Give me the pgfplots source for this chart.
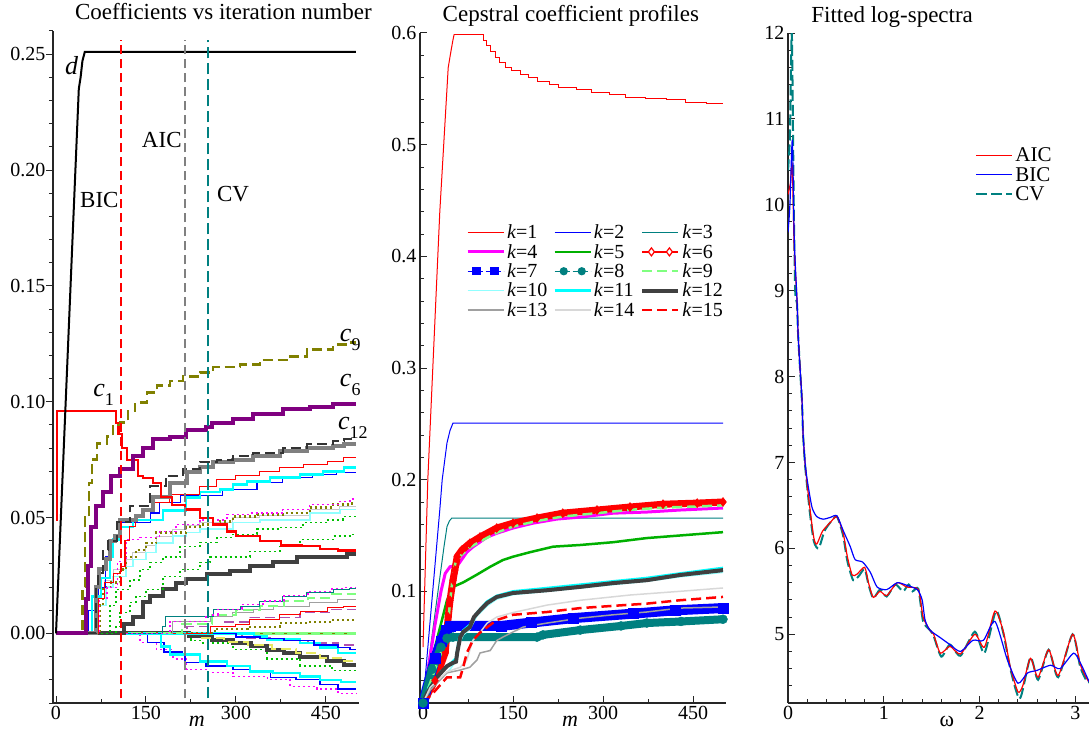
\documentclass[border=0pt]{standalone}
\usepackage{fontspec}
\setmainfont{Liberation Serif}
\usepackage{pgfplots}
\pgfplotsset{compat=1.18}
\definecolor{cRed}{HTML}{FF0000}
\definecolor{cBlue}{HTML}{0000FF}
\definecolor{cTeal}{HTML}{008080}
\definecolor{cOlive}{HTML}{808000}
\definecolor{cPurple}{HTML}{800080}
\definecolor{cGray}{HTML}{808080}
\definecolor{cMid}{HTML}{A0A0A0}
\definecolor{cDark}{HTML}{404040}
\definecolor{cLight}{HTML}{C8C8C8}
\definecolor{cVLight}{HTML}{D8D8D8}
\definecolor{cMag}{HTML}{FF00FF}
\definecolor{cGreen}{HTML}{00B000}
\definecolor{cDGreen}{HTML}{00C000}
\definecolor{cLGreen}{HTML}{80FF80}
\definecolor{cCyan}{HTML}{00FFFF}
\definecolor{cLCyan}{HTML}{90FFFF}
\definecolor{cYellow}{HTML}{E8E860}
\definecolor{cOrchid}{HTML}{B050B0}
\newcommand{\fs}[1]{\fontsize{#1}{#1}\selectfont}
\newcommand{\clab}[1]{{\fs{26}\itshape c}\raisebox{-9pt}{\fs{18}#1}}
\pgfplotsset{
  base/.style={
    scale only axis,
    axis x line*=bottom, axis y line*=left,
    axis line style={-, line width=1.2pt, black!85},
    every tick/.style={black!85, line width=1pt},
    major tick length=7pt, minor tick length=4pt,
    tick label style={font=\fs{20}},
    /pgf/number format/assume math mode=true,
    title style={font=\fs{23}, anchor=base, yshift=5pt},
    enlargelimits=false,
    legend cell align=left,
    legend image code/.code={\draw[mark repeat=2,mark phase=2,#1] plot coordinates {(0pt,0pt) (9pt,0pt) (18pt,0pt) (27pt,0pt) (36pt,0pt)};},
  },
  st/.style={const plot, line width=#1},
  st/.default=1pt,
  dotp/.style={dash pattern=on 2pt off 3pt},
  dashp/.style={dash pattern=on 10pt off 5pt},
}
\begin{document}
\begin{tikzpicture}
\useasboundingbox (0,0) rectangle (1089pt,731pt);
%================ PANEL 1
\begin{axis}[base, at={(53pt,28pt)}, anchor=south west, width=306pt, height=672pt,
  xmin=-5, xmax=505, ymin=-0.03, ymax=0.26, clip=false,
  xtick={0,150,300,450}, minor xtick={75,225,375},
  ytick={0,0.05,0.1,0.15,0.2,0.25},
  minor ytick={-0.03,-0.02,-0.01,0.01,0.02,0.03,0.04,0.06,0.07,0.08,0.09,0.11,0.12,0.13,0.14,0.16,0.17,0.18,0.19,0.21,0.22,0.23,0.24,0.26},
  xtick align=inside, ytick align=outside,
  yticklabel style={xshift=3pt, /pgf/number format/.cd, fixed, fixed zerofill, precision=2},
  title={Coefficients vs iteration number}, title style={at={(0.557,1)}},
  xlabel={\textit{m}}, xlabel style={font=\fs{22}, at={(0.47,0)}, anchor=base, yshift=-23pt},
]
\addplot[cLGreen, line width=3pt] coordinates {(0,0) (500,0)};
\addplot[cOlive, line width=1.5pt, dash pattern=on 3pt off 9pt] coordinates {(0,0) (500,0)};
% negative group
\addplot[st=1.2pt, cMag, dotp] coordinates {(0,0) (138,0) (140,-0.004) (168,-0.007) (195,-0.011) (218,-0.0155) (252,-0.017) (295,-0.0186) (352,-0.020) (390,-0.023) (435,-0.024) (470,-0.026) (500,-0.026)};
\addplot[st=1.2pt, cBlue] coordinates {(0,0) (150,0) (152,-0.004) (180,-0.008) (210,-0.0095) (215,-0.0125) (250,-0.014) (295,-0.0155) (323,-0.017) (357,-0.019) (400,-0.020) (440,-0.022) (470,-0.024) (500,-0.024)};
\addplot[st=2.5pt, cCyan] coordinates {(0,0) (170,0) (175,-0.0056) (190,-0.009) (240,-0.012) (285,-0.014) (323,-0.0164) (362,-0.017) (407,-0.0186) (440,-0.020) (475,-0.021) (500,-0.021)};
\addplot[st=1.5pt, cDGreen, dotp] coordinates {(0,0) (220,0) (225,-0.003) (240,-0.004) (295,-0.007) (352,-0.011) (407,-0.014) (460,-0.016) (500,-0.016)};
\addplot[st=4pt, cDark] coordinates {(0,0) (215,0) (222,-0.001) (260,-0.003) (295,-0.004) (325,-0.0055) (352,-0.007) (380,-0.0085) (407,-0.010) (452,-0.012) (480,-0.0134) (500,-0.0134)};
\addplot[st=2pt, cYellow, dashp] coordinates {(0,0) (230,0) (240,-0.002) (280,-0.0035) (320,-0.005) (360,-0.0065) (400,-0.0085) (440,-0.0105) (480,-0.012) (500,-0.012)};
\addplot[st=1.5pt, cOrchid, dashp] coordinates {(0,0) (300,0) (310,-0.002) (360,-0.003) (420,-0.004) (470,-0.005) (500,-0.005)};
\addplot[st=2.5pt, cCyan] coordinates {(0,0) (320,0) (330,-0.0013) (352,-0.0026) (407,-0.004) (440,-0.006) (470,-0.0085) (500,-0.0085)};
\addplot[st=1.2pt, cBlue] coordinates {(0,0) (290,0) (300,-0.0015) (340,-0.002) (380,-0.003) (430,-0.005) (470,-0.006) (490,-0.007) (500,-0.007)};
% small positive group
\addplot[st=2pt, cOlive, dotp] coordinates {(0,0) (260,0) (265,0.002) (320,0.003) (373,0.0047) (423,0.005) (460,0.006) (500,0.006)};
\addplot[st=1.5pt, cOrchid, dashp] coordinates {(0,0) (215,0) (218,0.003) (280,0.005) (323,0.007) (407,0.009) (460,0.0104) (500,0.0104)};
\addplot[st=1pt, cRed] coordinates {(0,0) (255,0) (258,0.003) (300,0.004) (323,0.006) (373,0.0082) (407,0.0095) (452,0.011) (480,0.0117) (500,0.0117)};
\addplot[st=1pt, cMid] coordinates {(0,0) (190,0) (195,0.005) (257,0.0073) (295,0.009) (330,0.0105) (362,0.0117) (423,0.0134) (470,0.0147) (500,0.0147)};
\addplot[st=2pt, cLGreen, dashp] coordinates {(0,0) (200,0) (210,0.004) (260,0.008) (300,0.010) (340,0.012) (380,0.014) (420,0.0155) (460,0.017) (500,0.017)};
\addplot[st=1pt, cTeal] coordinates {(0,0) (175,0) (178,0.003) (183,0.0073) (262,0.0104) (307,0.0117) (340,0.0138) (378,0.016) (418,0.0177) (462,0.019) (490,0.0194) (500,0.0194)};
\addplot[st=1.2pt, cMag, dotp] coordinates {(0,0) (185,0) (190,0.005) (250,0.008) (270,0.0105) (310,0.0125) (345,0.014) (380,0.0163) (420,0.018) (460,0.0193) (480,0.0197) (500,0.0197)};
% middle group
\addplot[st=4pt, cDark] coordinates {(0,0) (112,0) (114,0.004) (128,0.0073) (145,0.0134) (157,0.016) (178,0.019) (200,0.022) (217,0.0233) (252,0.0255) (290,0.0268) (323,0.029) (362,0.031) (402,0.0328) (445,0.033) (485,0.0345) (500,0.0345)};
\addplot[st=1.5pt, cDGreen, dotp] coordinates {(0,0) (97,0) (100,0.003) (107,0.009) (123,0.0134) (133,0.016) (150,0.019) (178,0.0246) (207,0.0276) (240,0.0307) (257,0.033) (323,0.0354) (373,0.0376) (407,0.0406) (462,0.042) (490,0.0428) (500,0.0428)};
\addplot[st=1.5pt, cDGreen, dotp] coordinates {(0,0) (85,0) (90,0.012) (100,0.019) (123,0.023) (140,0.0276) (157,0.0307) (178,0.033) (207,0.0376) (240,0.0393) (268,0.0415) (295,0.0428) (335,0.045) (373,0.0458) (412,0.048) (452,0.049) (478,0.0505) (500,0.0505)};
\addplot[st=1pt, cLight] coordinates {(0,0) (64,0) (68,0.015) (80,0.023) (95,0.0276) (117,0.032) (128,0.035) (150,0.038) (167,0.042) (195,0.045) (217,0.0466) (240,0.048) (295,0.050) (340,0.051) (423,0.0535) (473,0.055) (500,0.055)};
\addplot[st=1.5pt, cLCyan] coordinates {(0,0) (66,0) (70,0.012) (83,0.02) (95,0.0246) (117,0.029) (128,0.032) (150,0.035) (167,0.039) (195,0.042) (217,0.0436) (240,0.045) (295,0.048) (340,0.049) (423,0.052) (473,0.0535) (500,0.0535)};
\addplot[st=2.5pt, cOlive, dotp] coordinates {(0,0) (68,0) (73,0.012) (78,0.02) (92,0.022) (107,0.0276) (117,0.033) (133,0.036) (150,0.039) (167,0.0436) (217,0.046) (240,0.047) (273,0.0484) (295,0.0505) (335,0.0514) (378,0.052) (423,0.0544) (462,0.0557) (490,0.056) (500,0.056)};
\addplot[st=1.2pt, cMag, dotp] coordinates {(0,0) (70,0) (73,0.015) (85,0.02) (102,0.031) (118,0.0406) (140,0.0415) (173,0.044) (200,0.047) (240,0.049) (285,0.0514) (323,0.052) (378,0.0535) (423,0.0557) (473,0.057) (490,0.058) (500,0.058)};
% upper group
\addplot[st=1.2pt, cBlue] coordinates {(0,0) (52,0) (54,0.01) (70,0.02) (83,0.033) (90,0.0406) (107,0.048) (157,0.052) (173,0.0566) (207,0.0595) (278,0.0622) (335,0.065) (378,0.0674) (428,0.0687) (468,0.0695) (500,0.0695)};
\addplot[st=2.5pt, cCyan] coordinates {(0,0) (56,0) (60,0.016) (75,0.024) (90,0.033) (95,0.0406) (107,0.046) (128,0.049) (178,0.053) (217,0.0587) (240,0.061) (273,0.0622) (295,0.0643) (318,0.0656) (357,0.0674) (407,0.0687) (445,0.070) (480,0.0717) (500,0.0717)};
\addplot[st=1pt, cRed] coordinates {(0,0) (66,0) (70,0.015) (80,0.022) (95,0.026) (107,0.029) (115,0.040) (123,0.046) (133,0.0505) (145,0.0535) (162,0.0566) (190,0.06) (240,0.0635) (268,0.0665) (300,0.068) (340,0.070) (373,0.0717) (412,0.073) (452,0.0743) (480,0.076) (500,0.076)};
\addplot[st=4pt, cGray] coordinates {(0,0) (62,0) (66,0.02) (72,0.028) (83,0.032) (90,0.04) (98,0.042) (107,0.049) (133,0.0505) (145,0.0535) (162,0.059) (190,0.065) (218,0.0695) (240,0.0717) (262,0.0738) (295,0.075) (328,0.0764) (373,0.0786) (418,0.080) (462,0.0807) (480,0.0816) (500,0.0816)};
\addplot[st=2pt, black!80, dashp] coordinates {(0,0) (64,0) (66,0.02) (70,0.026) (78,0.036) (87,0.04) (102,0.048) (123,0.055) (157,0.0635) (183,0.068) (212,0.0708) (240,0.0738) (268,0.075) (295,0.0764) (328,0.078) (378,0.080) (418,0.0816) (462,0.083) (480,0.0838) (500,0.0838)};
\addplot[st=2.2pt, cRed] coordinates {(0,0.049) (2,0.096) (100,0.091) (104,0.086) (110,0.080) (118,0.075) (137,0.068) (145,0.067) (162,0.065) (175,0.059) (193,0.0553) (215,0.0535) (240,0.050) (262,0.047) (285,0.044) (300,0.042) (340,0.040) (375,0.038) (410,0.0376) (440,0.0365) (470,0.0358) (500,0.0358)};
\addplot[st=2.5pt, cOlive, dashp] coordinates {(0,0) (42,0) (44,0.02) (48,0.05) (55,0.065) (60,0.075) (68,0.082) (85,0.085) (95,0.090) (107,0.091) (120,0.096) (132,0.0997) (152,0.104) (168,0.107) (190,0.109) (212,0.111) (240,0.1127) (262,0.115) (307,0.116) (340,0.118) (385,0.1196) (418,0.1226) (462,0.1248) (485,0.1256) (500,0.1256)};
\addplot[st=4pt, cPurple] coordinates {(0,0) (47,0) (50,0.015) (53,0.029) (58,0.046) (67,0.055) (78,0.061) (92,0.068) (107,0.0708) (128,0.0764) (145,0.080) (162,0.0838) (190,0.085) (217,0.088) (250,0.089) (260,0.091) (295,0.0924) (328,0.0946) (378,0.0967) (423,0.0976) (462,0.0989) (500,0.0989)};
\addplot[black, line width=2pt] coordinates {(0,0) (38,0.235) (41,0.24) (44,0.247) (48,0.251) (500,0.251)};
% vertical criterion lines
\addplot[cRed, line width=2pt, dash pattern=on 9pt off 5pt] coordinates {(108,-0.028) (108,0.256)};
\addplot[cGray, line width=2pt, dash pattern=on 9pt off 5pt] coordinates {(215,-0.028) (215,0.256)};
\addplot[cTeal, line width=2pt, dash pattern=on 11pt off 5pt] coordinates {(254,-0.028) (254,0.256)};
% labels
\node[anchor=base west, font=\fs{26}\itshape, inner sep=0pt] at (axis cs:15,0.2414) {d};
\node[anchor=base west, inner sep=0pt] at (axis cs:62,0.1023) {\clab{1}};
\node[anchor=base west, inner sep=0pt] at (axis cs:473,0.126) {\clab{9}};
\node[anchor=base west, inner sep=0pt] at (axis cs:473,0.1066) {\clab{6}};
\node[anchor=base west, inner sep=0pt] at (axis cs:470,0.088) {\clab{12}};
\node[anchor=base west, font=\fs{23}, inner sep=0pt] at (axis cs:143,0.2098) {AIC};
\node[anchor=base west, font=\fs{23}, inner sep=0pt] at (axis cs:40,0.184) {BIC};
\node[anchor=base west, font=\fs{23}, inner sep=0pt] at (axis cs:268,0.1865) {CV};
\end{axis}
%================ PANEL 2
\begin{axis}[base, at={(420pt,28pt)}, anchor=south west, width=306pt, height=670pt,
  xmin=-5, xmax=505, ymin=0, ymax=0.6,
  xtick={0,150,300,450}, minor xtick={75,225,375},
  ytick={0.1,0.2,0.3,0.4,0.5,0.6},
  minor ytick={0.02,0.04,0.06,0.08,0.12,0.14,0.16,0.18,0.22,0.24,0.26,0.28,0.32,0.34,0.36,0.38,0.42,0.44,0.46,0.48,0.52,0.54,0.56,0.58},
  tick align=inside,
  yticklabel style={/pgf/number format/.cd, fixed, fixed zerofill, precision=1},
  title={Cepstral coefficient profiles}, title style={at={(0.493,1)}},
  xlabel={\textit{m}}, xlabel style={font=\fs{22}, at={(0.49,0)}, anchor=base, yshift=-23pt},
  legend columns=3,
  legend style={at={(0.14,0.72)}, anchor=north west, draw=none, fill=none, font=\fs{20},
    /tikz/every even column/.append style={column sep=4pt},
    /tikz/every odd column/.append style={column sep=0pt}},
]
\addplot[cRed, line width=1pt, forget plot] coordinates {(0,0.05) (8,0.2) (28,0.44) (42,0.569) (47,0.585) (50,0.594) (52,0.599)};
\addplot[const plot, cRed, line width=1pt, forget plot] coordinates {(52,0.599) (100,0.5936) (106,0.589) (112,0.583) (120,0.578) (128,0.574) (138,0.569) (148,0.5667) (163,0.563) (176,0.5604) (190,0.557) (210,0.554) (226,0.5515) (255,0.5497) (281,0.547) (310,0.545) (338,0.5425) (371,0.5416) (405,0.540) (438,0.538) (473,0.537) (500,0.537)};
\addplot[cBlue, line width=1pt, forget plot] coordinates {(0,0) (28,0.173) (32,0.2) (40,0.233) (45,0.244) (50,0.2507) (500,0.2507)};
\addplot[cTeal, line width=1pt, forget plot] coordinates {(0,0) (35,0.14) (40,0.158) (44,0.163) (48,0.1656) (500,0.1656)};
\addplot[cMag, line width=3pt, forget plot] coordinates {(0,0) (20,0.07) (30,0.1) (37,0.116) (45,0.122) (58,0.1235) (73,0.135) (83,0.1397) (107,0.1486) (123,0.152) (150,0.1567) (183,0.161) (223,0.1647) (262,0.1665) (317,0.170) (373,0.171) (428,0.1728) (500,0.1746)};
\addplot[cGreen, line width=2.5pt, forget plot] coordinates {(0,0) (20,0.05) (40,0.092) (50,0.104) (67,0.108) (90,0.115) (112,0.122) (133,0.128) (150,0.131) (178,0.135) (217,0.14) (262,0.1415) (317,0.144) (373,0.1477) (428,0.150) (500,0.153)};
\addplot[cRed, line width=7pt, mark=diamond*, mark size=4.5pt, mark options={fill=cRed, line width=0.5pt}, forget plot] coordinates {(0,0) (20,0.02) (37,0.045) (42,0.077) (45,0.092) (50,0.11) (53,0.119) (57,0.131) (65,0.137) (78,0.143) (95,0.1486) (123,0.1567) (150,0.161) (190,0.1656) (233,0.170) (290,0.1728) (345,0.1755) (400,0.178) (457,0.179) (500,0.180)};
\addplot[cBlue, line width=10pt, mark=square*, mark size=5pt, mark options={line width=0.4pt}, forget plot] coordinates {(0,0) (20,0.04) (30,0.055) (38,0.065) (45,0.069) (130,0.069) (180,0.072) (250,0.076) (350,0.08) (420,0.083) (500,0.085)};
\addplot[cTeal, line width=8pt, mark=*, mark size=4.5pt, mark options={line width=0.4pt}, forget plot] coordinates {(0,0) (15,0.03) (30,0.05) (40,0.058) (50,0.059) (190,0.059) (200,0.061) (262,0.0653) (330,0.069) (373,0.0716) (430,0.073) (500,0.075)};
\addplot[cLGreen, line width=2.5pt, dashp, forget plot] coordinates {(0,0) (40,0.06) (45,0.09) (50,0.115) (55,0.128) (65,0.133) (80,0.14) (100,0.146) (125,0.153) (150,0.158) (190,0.163) (233,0.167) (290,0.170) (345,0.173) (400,0.175) (457,0.176) (500,0.177)};
\addplot[cLCyan, line width=1.5pt, forget plot] coordinates {(0,0) (10,0.012) (30,0.022) (45,0.03) (55,0.038) (62,0.055) (67,0.061) (78,0.066) (90,0.078) (107,0.087) (123,0.093) (150,0.097) (207,0.1) (262,0.103) (317,0.106) (373,0.109) (428,0.113) (500,0.117)};
\addplot[cCyan, line width=2.5pt, forget plot] coordinates {(0,0) (10,0.014) (30,0.028) (45,0.035) (55,0.04) (60,0.058) (67,0.065) (78,0.07) (90,0.081) (107,0.091) (123,0.096) (150,0.1) (207,0.103) (262,0.106) (317,0.109) (373,0.112) (428,0.116) (500,0.121)};
\addplot[cDark, line width=4pt, forget plot] coordinates {(0,0) (7,0.009) (23,0.023) (40,0.033) (50,0.036) (55,0.037) (57,0.045) (62,0.059) (67,0.0636) (78,0.068) (85,0.077) (90,0.08) (95,0.083) (107,0.0895) (123,0.095) (150,0.0985) (207,0.101) (262,0.104) (317,0.1074) (373,0.110) (428,0.1146) (500,0.119)};
\addplot[cMid, line width=1.5pt, forget plot] coordinates {(0,0) (12,0.0116) (40,0.027) (62,0.0295) (78,0.032) (90,0.0385) (95,0.0448) (112,0.047) (123,0.056) (133,0.059) (150,0.0636) (167,0.068) (207,0.0716) (262,0.076) (317,0.079) (373,0.0815) (428,0.085) (500,0.086)};
\addplot[cVLight, line width=1.5pt, forget plot] coordinates {(0,0) (12,0.014) (40,0.028) (62,0.032) (73,0.0385) (83,0.056) (95,0.063) (107,0.0716) (123,0.077) (150,0.081) (207,0.0877) (262,0.092) (345,0.0967) (428,0.100) (500,0.103)};
\addplot[cRed, line width=2.5pt, dashp, forget plot] coordinates {(0,0) (17,0.009) (40,0.023) (62,0.023) (67,0.032) (73,0.0448) (83,0.056) (95,0.063) (107,0.068) (123,0.0743) (150,0.079) (207,0.0815) (262,0.085) (317,0.087) (373,0.089) (428,0.092) (500,0.095)};
\addlegendimage{cRed, line width=1.3pt}\addlegendentry{\textit{k}=1}
\addlegendimage{cBlue, line width=1.3pt}\addlegendentry{\textit{k}=2}
\addlegendimage{cTeal, line width=1.3pt}\addlegendentry{\textit{k}=3}
\addlegendimage{cMag, line width=3pt}\addlegendentry{\textit{k}=4}
\addlegendimage{cGreen, line width=2.5pt}\addlegendentry{\textit{k}=5}
\addlegendimage{cRed, line width=2.5pt, mark=diamond*, mark size=4pt, mark options={fill=white, line width=1.2pt}}\addlegendentry{\textit{k}=6}
\addlegendimage{cBlue, line width=1.2pt, dash pattern=on 6pt off 3pt, mark=square*, mark size=3.5pt, mark options={solid}}\addlegendentry{\textit{k}=7}
\addlegendimage{cTeal, line width=1.2pt, dash pattern=on 6pt off 3pt, mark=*, mark size=3.5pt, mark options={solid}}\addlegendentry{\textit{k}=8}
\addlegendimage{cLGreen, line width=2.5pt, dashp}\addlegendentry{\textit{k}=9}
\addlegendimage{cLCyan, line width=1.5pt}\addlegendentry{\textit{k}=10}
\addlegendimage{cCyan, line width=2.5pt}\addlegendentry{\textit{k}=11}
\addlegendimage{cDark, line width=4pt}\addlegendentry{\textit{k}=12}
\addlegendimage{cMid, line width=1.5pt}\addlegendentry{\textit{k}=13}
\addlegendimage{cVLight, line width=1.5pt}\addlegendentry{\textit{k}=14}
\addlegendimage{cRed, line width=2.5pt, dashp}\addlegendentry{\textit{k}=15}
\end{axis}
%================ PANEL 3
\begin{axis}[base, at={(788pt,28pt)}, anchor=south west, width=301pt, height=670pt,
  xmin=0, xmax=3.14159, ymin=4.2, ymax=12,
  xtick={0,1,2,3}, minor xtick={0.2,0.4,0.6,0.8,1.2,1.4,1.6,1.8,2.2,2.4,2.6,2.8,3.2},
  ytick={5,6,7,8,9,10,11,12},
  minor ytick={4.4,4.6,4.8,5.2,5.4,5.6,5.8,6.2,6.4,6.6,6.8,7.2,7.4,7.6,7.8,8.2,8.4,8.6,8.8,9.2,9.4,9.6,9.8,10.2,10.4,10.6,10.8,11.2,11.4,11.6,11.8},
  tick align=inside,
  title={Fitted log-spectra}, title style={at={(0.346,1)}},
  xlabel={ω}, xlabel style={font=\fs{22}, at={(0.528,0)}, anchor=base, yshift=-23pt},
  legend style={at={(0.612,0.835)}, anchor=north west, draw=none, fill=none, font=\fs{21}},
]
\addplot[cTeal, line width=2pt, dash pattern=on 11pt off 4pt, smooth, tension=0.4, forget plot] coordinates {(0,10.4) (0.02,10.8) (0.04,12.0) (0.06,10.0) (0.075,9.0) (0.094,8.85) (0.105,8.5) (0.125,8.1) (0.146,7.7) (0.157,7.33) (0.178,6.97) (0.2,6.72) (0.23,6.4) (0.27,6.08) (0.32,6.0) (0.38,6.2) (0.44,6.3) (0.51,6.37) (0.575,6.15) (0.62,5.85) (0.68,5.63) (0.74,5.68) (0.80,5.76) (0.84,5.58) (0.89,5.42) (0.96,5.52) (1.03,5.44) (1.12,5.58) (1.20,5.50) (1.26,5.58) (1.30,5.50) (1.36,5.53) (1.41,5.15) (1.48,5.05) (1.52,4.98) (1.60,4.74) (1.69,4.88) (1.80,4.75) (1.95,5.03) (2.05,4.78) (2.17,5.27) (2.25,5.0) (2.32,4.6) (2.42,4.25) (2.53,4.73) (2.61,4.47) (2.72,4.82) (2.82,4.50) (2.97,5.0) (3.05,4.62) (3.12,4.45) (3.1416,4.45)};
\addplot[cRed, line width=1.2pt, smooth, tension=0.4] coordinates {(0,10.12) (0.025,10.25) (0.045,10.45) (0.065,9.5) (0.094,8.89) (0.105,8.5) (0.125,8.11) (0.146,7.73) (0.157,7.34) (0.178,6.99) (0.2,6.75) (0.23,6.45) (0.27,6.12) (0.30,6.05) (0.36,6.2) (0.44,6.3) (0.51,6.37) (0.575,6.18) (0.62,5.9) (0.67,5.69) (0.72,5.7) (0.80,5.78) (0.84,5.6) (0.89,5.43) (0.96,5.5) (1.03,5.45) (1.14,5.60) (1.24,5.55) (1.36,5.52) (1.41,5.2) (1.48,5.05) (1.52,5.0) (1.59,4.78) (1.69,4.86) (1.80,4.77) (1.95,5.0) (2.05,4.85) (2.16,5.27) (2.25,5.02) (2.32,4.62) (2.40,4.33) (2.45,4.4) (2.53,4.72) (2.61,4.5) (2.72,4.82) (2.82,4.52) (2.97,5.0) (3.05,4.65) (3.12,4.48) (3.1416,4.45)};
\addplot[cBlue, line width=1.2pt, smooth, tension=0.4] coordinates {(0,9.68) (0.02,10.0) (0.045,10.75) (0.065,9.6) (0.094,8.89) (0.105,8.5) (0.125,8.11) (0.146,7.73) (0.157,7.34) (0.178,7.0) (0.2,6.8) (0.25,6.48) (0.30,6.37) (0.366,6.34) (0.44,6.36) (0.51,6.38) (0.575,6.21) (0.65,6.02) (0.70,5.87) (0.78,5.84) (0.86,5.72) (0.93,5.55) (1.03,5.52) (1.14,5.60) (1.24,5.57) (1.35,5.52) (1.40,5.40) (1.43,5.17) (1.48,5.05) (1.59,4.96) (1.69,4.88) (1.80,4.80) (1.93,4.93) (2.04,4.93) (2.16,5.15) (2.29,4.70) (2.40,4.43) (2.50,4.55) (2.60,4.58) (2.74,4.64) (2.84,4.60) (2.98,4.78) (3.05,4.67) (3.1416,4.45)};
\addlegendentry{AIC}
\addlegendentry{BIC}
\addlegendimage{cTeal, line width=2pt, dash pattern=on 11pt off 4pt}\addlegendentry{CV}
\end{axis}
\end{tikzpicture}
\end{document}
